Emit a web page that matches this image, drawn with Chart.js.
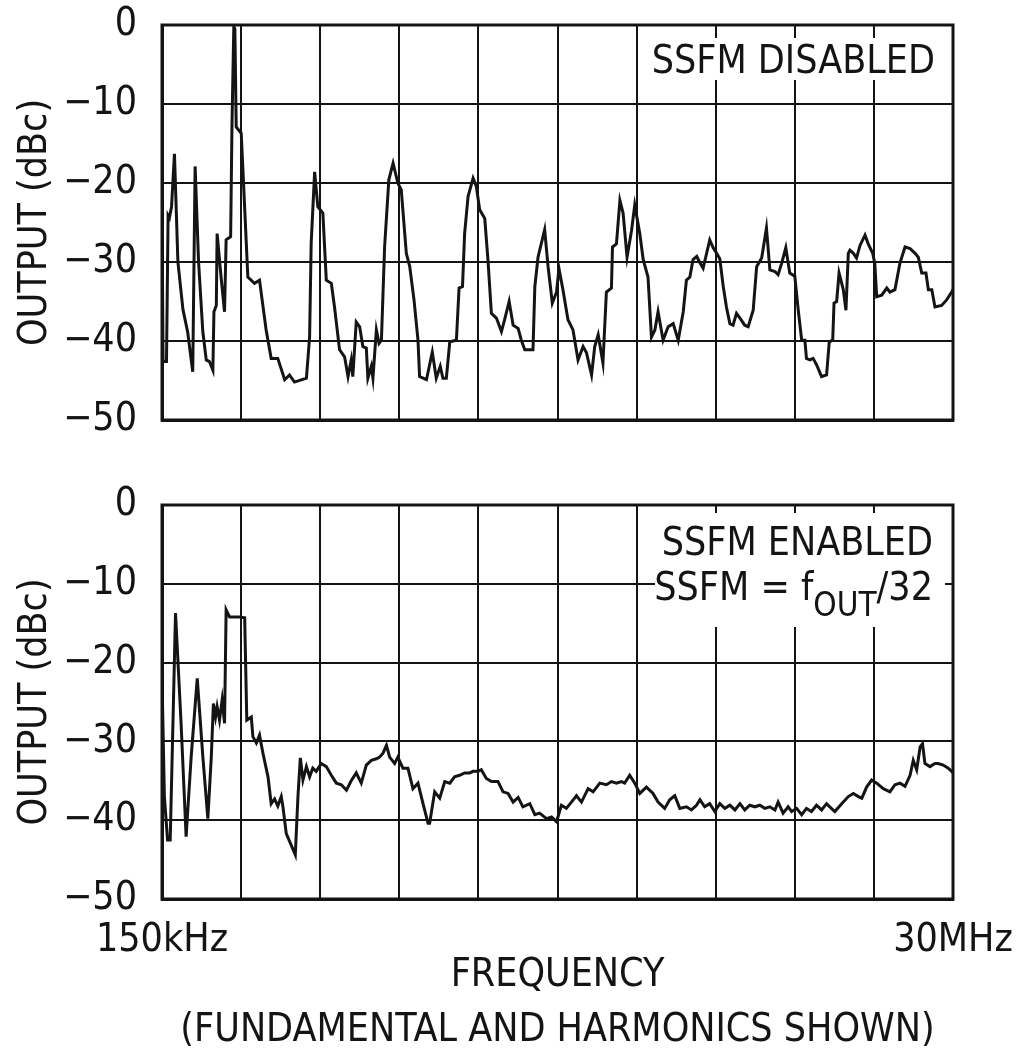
<!DOCTYPE html>
<html><head><meta charset="utf-8">
<script src="https://cdn.jsdelivr.net/npm/chart.js@4.4.1/dist/chart.umd.min.js"></script>
<style>
html,body{margin:0;padding:0;background:#fff;}
#wrap{position:relative;width:1019px;height:1059px;background:#fff;}
canvas{position:absolute;left:0;}
#c1{top:0}
#c2{top:480px}
</style></head><body>
<div id="wrap"><canvas id="c1" width="1019" height="480"></canvas><canvas id="c2" width="1019" height="579"></canvas></div>
<script>
// ---- DATA (frequency in MHz, output in dBc) ----
const freqDisabled = [
0.15,0.19,0.32,0.38,0.43,0.51,0.62,0.75,0.94,1.12,
1.31,1.40,1.53,1.69,1.82,1.94,2.07,2.11,2.20,2.23,
2.39,2.51,2.57,2.74,2.79,2.86,2.90,2.95,3.14,3.39,3.64,
3.83,4.08,4.27,4.52,4.78,4.96,5.15,5.60,5.72,5.78,
5.91,6.03,6.22,6.35,6.54,6.66,6.85,7.04,7.17,7.29,
7.35,7.48,7.61,7.73,7.86,7.92,8.05,8.11,8.24,8.34,
8.43,8.49,8.55,8.71,8.87,9.05,9.18,9.37,9.50,9.66,
9.81,9.87,10.13,10.35,10.50,10.65,10.75,10.88,11.01,11.26,
11.36,11.49,11.57,11.70,11.89,12.01,12.14,12.33,12.45,12.58,
12.77,12.96,13.08,13.25,13.40,13.59,13.71,13.84,14.15,14.22,
14.34,14.59,14.72,14.88,15.04,15.13,15.28,15.47,15.66,15.85,
16.04,16.17,16.36,16.48,16.61,16.79,16.92,17.11,17.15,17.30,
17.43,17.55,17.70,17.87,17.99,18.18,18.31,18.49,18.62,18.75,
18.87,19.06,19.25,19.44,19.63,19.82,19.94,20.07,20.19,20.33,
20.45,20.57,20.82,20.95,21.08,21.20,21.33,21.45,21.58,21.70,
21.83,21.96,22.14,22.27,22.46,22.59,22.78,22.96,23.09,23.28,
23.40,23.53,23.69,23.84,24.03,24.16,24.29,24.41,24.47,24.60,
24.72,24.85,25.04,25.23,25.33,25.46,25.51,25.61,25.70,25.86,
25.96,26.05,26.11,26.24,26.36,26.49,26.68,26.80,26.97,27.05,
27.12,27.31,27.50,27.62,27.81,28.00,28.19,28.38,28.57,28.69,
28.82,28.98,29.07,29.20,29.32,29.57,29.76,29.95,30.00
];
const outDisabled = [
-22.4,-42.6,-42.6,-24.1,-24.4,-23.0,-16.3,-30.0,-36.0,-38.9,
-43.9,-17.9,-30.0,-38.8,-42.4,-42.6,-43.7,-36.3,-35.5,-26.4,
-32.3,-36.3,-27.2,-26.8,-12.9,-0.2,-0.5,-12.9,-13.7,-31.9,-32.7,
-32.3,-38.6,-42.2,-42.2,-44.9,-44.3,-45.2,-44.7,-39.5,-27.6,
-18.6,-23.0,-23.8,-32.3,-32.7,-35.7,-41.1,-42.0,-44.5,-42.4,
-44.5,-37.6,-38.2,-40.7,-40.9,-44.7,-43.2,-44.7,-38.6,-40.3,
-39.9,-34.0,-28.1,-19.6,-17.5,-20.0,-20.9,-28.9,-30.6,-34.8,
-39.9,-44.5,-44.9,-41.4,-44.7,-43.2,-44.7,-44.7,-40.1,-39.9,
-33.3,-33.1,-26.4,-21.7,-19.4,-20.4,-23.4,-24.5,-29.7,-36.5,
-37.1,-38.8,-37.3,-35.0,-38.0,-38.4,-39.9,-41.1,-41.1,-33.1,
-29.4,-25.9,-30.6,-35.2,-33.8,-30.8,-33.5,-37.3,-38.6,-42.4,
-40.7,-41.5,-44.3,-40.7,-39.2,-42.8,-33.8,-33.3,-28.1,-27.7,
-22.2,-23.8,-29.4,-26.0,-22.8,-26.4,-29.7,-31.9,-39.5,-38.6,
-36.3,-39.9,-38.2,-37.8,-39.9,-36.3,-32.3,-31.9,-29.7,-29.3,
-30.1,-30.8,-27.2,-28.2,-28.9,-29.6,-33.1,-35.7,-37.8,-38.0,
-36.5,-37.1,-38.0,-38.2,-36.1,-30.6,-29.5,-25.7,-31.0,-31.2,
-31.6,-30.2,-28.2,-31.4,-31.8,-36.1,-39.9,-39.9,-42.2,-42.4,
-42.2,-43.0,-44.5,-44.3,-40.1,-39.9,-35.2,-35.0,-31.4,-33.5,
-36.1,-28.9,-28.5,-28.9,-29.5,-27.9,-26.6,-27.7,-28.9,-30.2,
-34.4,-34.2,-33.3,-33.8,-33.5,-30.1,-28.1,-28.3,-28.9,-29.4,
-31.4,-31.4,-33.5,-33.5,-35.7,-35.5,-34.8,-33.8,-33.5
];
const freqEnabled = [
0.15,0.24,0.36,0.46,0.66,0.87,1.06,1.25,1.48,1.69,
1.88,2.01,2.09,2.17,2.23,2.32,2.42,2.51,2.57,2.70,
2.82,3.08,3.27,3.35,3.52,3.58,3.71,3.83,3.96,4.15,
4.27,4.40,4.52,4.65,4.71,4.84,5.03,5.18,5.28,5.37,
5.47,5.60,5.72,5.84,5.97,6.16,6.35,6.54,6.73,6.92,
7.11,7.29,7.48,7.67,7.86,8.05,8.24,8.36,8.49,8.62,
8.74,8.93,9.05,9.24,9.43,9.62,9.81,10.00,10.19,10.25,
10.44,10.63,10.82,11.01,11.19,11.38,11.57,11.76,11.89,12.07,
12.20,12.39,12.58,12.83,13.02,13.21,13.40,13.59,13.77,14.03,
14.22,14.40,14.66,14.85,15.04,15.22,15.41,15.60,15.79,15.98,
16.23,16.42,16.67,16.92,17.11,17.30,17.49,17.61,17.80,17.99,
18.18,18.43,18.68,18.87,19.12,19.31,19.50,19.69,19.94,20.13,
20.32,20.45,20.63,20.82,21.01,21.20,21.39,21.58,21.77,21.96,
22.14,22.33,22.52,22.71,22.90,23.09,23.28,23.40,23.59,23.78,
23.91,24.10,24.29,24.47,24.66,24.85,25.04,25.23,25.35,25.54,
25.80,26.05,26.24,26.43,26.56,26.74,26.93,27.12,27.37,27.62,
27.81,28.00,28.19,28.38,28.50,28.63,28.76,28.85,28.94,29.13,
29.32,29.44,29.63,29.82,29.95,30.00
];
const outEnabled = [
-21.8,-37.0,-42.5,-42.5,-13.7,-27.7,-42.1,-32.0,-22.0,-31.9,
-39.8,-32.0,-25.2,-26.9,-25.6,-27.3,-24.7,-27.7,-13.3,-14.2,
-14.2,-14.2,-14.3,-27.3,-26.9,-29.4,-30.2,-29.2,-31.5,-34.5,
-37.9,-37.3,-38.2,-37.0,-38.2,-41.7,-43.2,-44.4,-37.0,-32.1,
-34.9,-33.2,-34.5,-33.4,-33.8,-32.8,-33.2,-34.3,-35.3,-35.5,
-36.2,-35.0,-34.0,-35.3,-33.0,-32.4,-32.2,-32.0,-31.5,-30.5,
-32.0,-32.8,-32.0,-33.4,-33.4,-36.0,-35.3,-37.9,-40.4,-40.4,
-36.4,-37.2,-35.1,-35.3,-34.5,-34.3,-34.0,-34.0,-33.8,-33.8,
-33.6,-34.7,-35.1,-35.1,-36.4,-36.6,-37.7,-37.1,-38.3,-37.9,
-39.3,-39.1,-39.8,-39.6,-40.2,-38.1,-38.5,-37.7,-36.9,-37.7,
-36.0,-36.4,-35.3,-35.5,-35.1,-35.3,-35.1,-35.3,-34.3,-35.3,
-36.6,-35.8,-36.6,-37.7,-38.5,-37.4,-36.9,-38.5,-38.3,-38.7,
-38.1,-37.4,-38.3,-37.9,-38.9,-37.9,-38.5,-38.1,-38.7,-37.9,
-38.7,-38.1,-38.3,-38.1,-38.5,-38.3,-38.7,-37.7,-39.1,-38.3,
-38.9,-38.5,-39.3,-38.5,-38.9,-38.1,-38.7,-37.9,-38.3,-38.9,
-37.9,-37.0,-36.6,-37.0,-37.2,-35.8,-34.9,-35.3,-36.0,-36.4,
-35.5,-35.3,-35.7,-34.3,-32.4,-33.6,-30.7,-30.3,-32.8,-33.2,
-32.8,-32.8,-33.0,-33.4,-33.8,-34.0
];
const yTicks = [0, -10, -20, -30, -40, -50];
const yTickLabels = ['0', '\u221210', '\u221220', '\u221230', '\u221240', '\u221250'];
const xStartMHz = 0.15;
const xEndMHz = 30;
const xDivisions = 10;
const xTickLabels = ['150kHz', '30MHz'];
const yTitle = 'OUTPUT (dBc)';
const xTitle = ['FREQUENCY', '(FUNDAMENTAL AND HARMONICS SHOWN)'];
const noteDisabled = [[{t: 'SSFM DISABLED'}]];
const noteEnabled = [[{t: 'SSFM ENABLED'}], [{t: 'SSFM = f'}, {t: 'OUT', sub: true}, {t: '/32'}]];

// ---- STYLE ----
const FONT = '"Liberation Sans Narrow", "Arial Narrow", "DejaVu Sans Condensed", sans-serif';
const INK = '#141414';
const FS = 39;
const gridVals = [];
for (let k = 0; k <= xDivisions; k++) gridVals.push(xStartMHz + k * (xEndMHz - xStartMHz) / xDivisions);

const framePlugin = {
  id: 'frame',
  afterDraw(chart) {
    const {ctx, chartArea: a} = chart;
    ctx.save();
    ctx.strokeStyle = INK; ctx.lineWidth = 3;
    ctx.strokeRect(a.left, a.top, a.right - a.left, a.bottom - a.top);
    ctx.restore();
  }
};

function notePlugin(lines, box) {
  return {
    id: 'note',
    beforeDatasetsDraw(chart) {
      const {ctx, chartArea: a} = chart;
      ctx.save();
      ctx.fillStyle = '#fff';
      ctx.fillRect(a.right - box.r, a.top + box.t, box.w, box.h);
      ctx.fillStyle = INK;
      ctx.textBaseline = 'alphabetic';
      lines.forEach((segs, li) => {
        let w = 0;
        segs.forEach(s => { ctx.font = (s.sub ? 33 : FS) + 'px ' + FONT; w += ctx.measureText(s.t).width; });
        let x = a.right - box.pr - w;
        const y = a.top + box.base + li * box.lh;
        segs.forEach(s => {
          ctx.font = (s.sub ? 33 : FS) + 'px ' + FONT;
          ctx.fillText(s.t, x, y + (s.sub ? 16 : 0));
          x += ctx.measureText(s.t).width;
        });
      });
      ctx.restore();
    }
  };
}

function makeChart(id, freqs, vals, showX, note, box, xHeight) {
  const data = freqs.map((f, i) => ({x: f, y: vals[i]}));
  return new Chart(document.getElementById(id), {
    type: 'line',
    data: {datasets: [{data, borderColor: INK, borderWidth: 3, pointRadius: 0, tension: 0, fill: false}]},
    options: {
      responsive: false, animation: false,
      layout: {padding: {top: 25, right: 66, left: 0, bottom: 0}},
      plugins: {legend: {display: false}, tooltip: {enabled: false}},
      scales: {
        x: {
          type: 'linear', min: xStartMHz, max: xEndMHz,
          afterBuildTicks(s) { s.ticks = gridVals.map(v => ({value: v})); },
          afterFit(s) { s.height = xHeight; s.paddingLeft = 0; s.paddingRight = 0; },
          grid: {color: INK, lineWidth: 2, drawTicks: false},
          border: {color: INK, width: 3},
          ticks: {
            display: showX, autoSkip: false, maxRotation: 0, minRotation: 0, padding: 18,
            color: INK, font: {family: FONT, size: FS},
            callback: (v, i, t) => i === 0 ? xTickLabels[0] : (i === t.length - 1 ? xTickLabels[1] : '')
          },
          title: {display: showX, text: xTitle, color: INK, font: {family: FONT, size: FS, lineHeight: 1.42}, padding: {top: 0, bottom: 0}}
        },
        y: {
          min: -50, max: 0,
          afterBuildTicks(s) { s.ticks = yTicks.map(v => ({value: v})); },
          afterFit(s) { s.width = 162; s.paddingTop = 0; s.paddingBottom = 0; },
          grid: {color: INK, lineWidth: 2, drawTicks: false},
          border: {color: INK, width: 3},
          ticks: {color: INK, padding: 25, font: {family: FONT, size: FS},
            callback: v => yTickLabels[yTicks.indexOf(v)]},
          title: {display: true, text: yTitle, color: INK, font: {family: FONT, size: FS, lineHeight: 1.2}, padding: {top: 12, bottom: 0}}
        }
      }
    },
    plugins: [notePlugin(note, box), framePlugin]
  });
}

makeChart('c1', freqDisabled, outDisabled, false, noteDisabled,
  {r: 308, t: 13, w: 300, h: 42, pr: 18, base: 48, lh: 45}, 60);
makeChart('c2', freqEnabled, outEnabled, true, noteEnabled,
  {r: 298, t: 8, w: 290, h: 114, pr: 20, base: 50, lh: 45}, 160);
</script>
</body></html>
